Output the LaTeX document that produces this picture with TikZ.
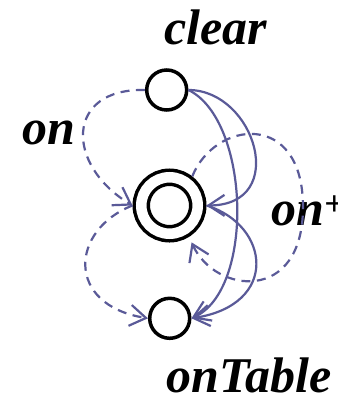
\documentclass[tikz,border=0pt]{standalone}
\usepackage{fontspec}
\setmainfont{Liberation Serif}
\usetikzlibrary{arrows.meta}
\definecolor{edgeblue}{HTML}{5A5A98}
\tikzset{
  statenode/.style={circle, draw=black, line width=3.5pt, inner sep=0pt, minimum size=40pt},
  goalnode/.style={circle, draw=black, line width=3.5pt, double, double distance=10.5pt,
    inner sep=0pt, minimum size=56.5pt, outer sep=8.75pt},
  rel/.style={-{Straight Barb[length=16pt,width=21pt]}, line width=2.2pt, color=edgeblue},
  drel/.style={rel, dash pattern=on 9pt off 6.5pt},   % on / on+
  lbl/.style={font=\fontsize{50pt}{60pt}\selectfont\bfseries\itshape, inner sep=0pt},
}

\begin{document}
\begin{tikzpicture}[x=1pt, y=-1pt]
  \useasboundingbox (0,0) rectangle (337,398);
  % states
  \node[statenode] (clear) at (166.7,90) {};
  \node[goalnode] (goal) at (169.5,205.5) {};
  \node[statenode] (table) at (169.7,318.3) {};
  % labels
  \node[lbl, anchor=base] (clearlbl) at (216,45) {clear};
  \node[lbl, anchor=base] (onlbl) at (49,144) {on};
  \node[lbl, anchor=base west] (onpluslbl) at (271,225) {on\textsuperscript{+}};
  \node[lbl, anchor=base] (tablelbl) at (249,392) {onTable};
  % dashed relations
  \draw[drel] (clear.west) .. controls (65,88) and (65,165) .. (goal.west);
  \draw[drel] (goal.west) .. controls (70,230) and (65,305) .. (table.west);
  \draw[drel, shorten >=6pt] (goal.52) .. controls (215,120) and (303,110) .. (303,207)
    .. controls (303,304) and (215,294) .. (goal.-58);
  % solid relations
  \draw[rel] (clear.east) .. controls (255,90) and (290,205) .. (goal.east);
  \draw[rel] (clear.east) .. controls (250,120) and (255,290) .. (table.east);
  \draw[rel] (goal.east) .. controls (270,225) and (280,305) .. (table.east);
\end{tikzpicture}
\end{document}
